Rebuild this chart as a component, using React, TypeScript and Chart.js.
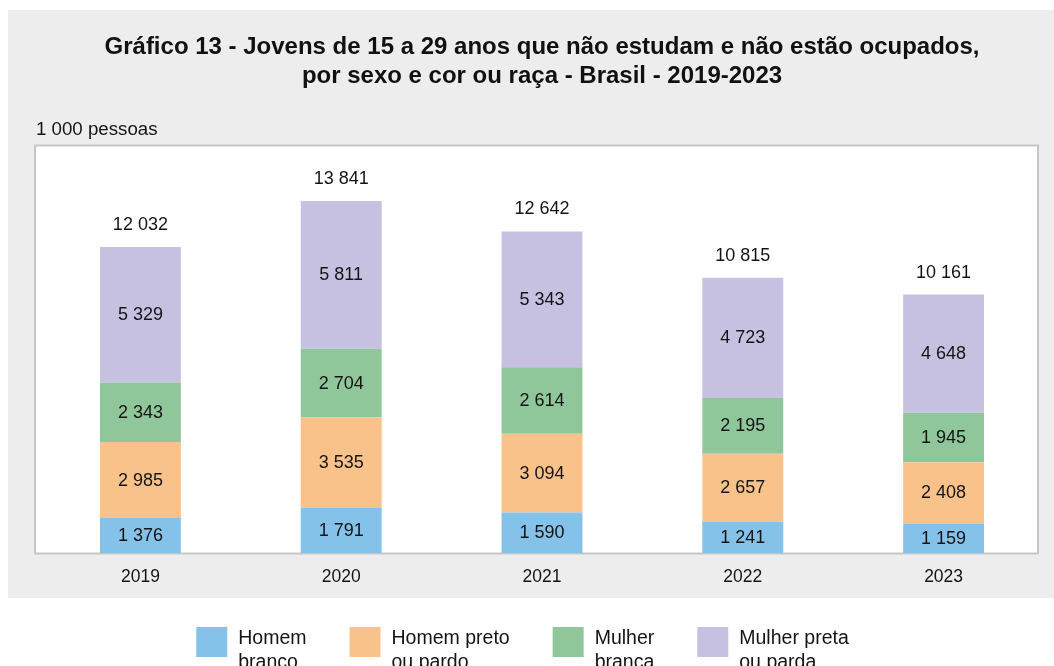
import React, { useEffect, useRef } from 'react';
import { Chart, registerables } from 'chart.js';

Chart.register(...registerables);

const years = ['2019', '2020', '2021', '2022', '2023'];
const homemBranco = [1376, 1791, 1590, 1241, 1159];
const homemPretoPardo = [2985, 3535, 3094, 2657, 2408];
const mulherBranca = [2343, 2704, 2614, 2195, 1945];
const mulherPretaParda = [5329, 5811, 5343, 4723, 4648];
const totals = [12032, 13841, 12642, 10815, 10161];
const seriesLabels = [
  ['Homem', 'branco'],
  ['Homem preto', 'ou pardo'],
  ['Mulher', 'branca'],
  ['Mulher preta', 'ou parda'],
];
const seriesColors = ['#85c2ea', '#f9c28b', '#90c79a', '#c6c1e1'];
const titleLines = [
  'Gráfico 13 - Jovens de 15 a 29 anos que não estudam e não estão ocupados,',
  'por sexo e cor ou raça - Brasil - 2019-2023',
];
const unitLabel = '1 000 pessoas';
const yMax = 16000;

const FONT = '"Liberation Sans", Arial, Helvetica, sans-serif';
const TEXT = '#141414';

const fmt = (v: number) => String(v).replace(/\B(?=(\d{3})+(?!\d))/g, ' ');

const decor = {
  id: 'decor',
  beforeDraw(chart: any) {
    const { ctx, chartArea: a, width, height } = chart;
    ctx.save();
    ctx.fillStyle = '#ffffff';
    ctx.fillRect(0, 0, width, height);
    ctx.fillStyle = '#ededed';
    ctx.fillRect(8, 10, width - 8, 588);
    const bx = a.left - 5;
    const by = a.top - 0.5;
    const br = a.right - 6;
    const bb = a.bottom + 0.5;
    ctx.fillStyle = '#ffffff';
    ctx.fillRect(bx, by, br - bx, bb - by);
    ctx.strokeStyle = '#c6c6c6';
    ctx.lineWidth = 2;
    ctx.strokeRect(bx, by, br - bx, bb - by);
    ctx.fillStyle = TEXT;
    ctx.font = `18.7px ${FONT}`;
    ctx.textAlign = 'left';
    ctx.textBaseline = 'alphabetic';
    ctx.fillText(unitLabel, 36, 135);
    ctx.restore();
  },
  afterDatasetsDraw(chart: any) {
    const { ctx } = chart;
    ctx.save();
    ctx.fillStyle = TEXT;
    ctx.font = `18px ${FONT}`;
    ctx.textAlign = 'center';
    ctx.textBaseline = 'middle';
    chart.data.datasets.forEach((ds: any, i: number) => {
      const meta = chart.getDatasetMeta(i);
      meta.data.forEach((bar: any, j: number) => {
        const { x, y, base } = bar.getProps(['x', 'y', 'base'], true);
        ctx.fillText(fmt(ds.data[j]), x, (y + base) / 2 + 0.5);
      });
    });
    const last = chart.getDatasetMeta(chart.data.datasets.length - 1);
    last.data.forEach((bar: any, j: number) => {
      const { x, y } = bar.getProps(['x', 'y'], true);
      ctx.fillText(fmt(totals[j]), x, y - 22);
    });
    ctx.restore();
  },
  afterDraw(chart: any) {
    const { ctx } = chart;
    ctx.save();
    ctx.font = `19.5px ${FONT}`;
    ctx.textAlign = 'left';
    ctx.textBaseline = 'alphabetic';
    const boxW = 31;
    const boxH = 30;
    const textGap = 11;
    const itemGap = 43;
    const widths = seriesLabels.map((l) => Math.max(...l.map((s) => ctx.measureText(s).width)));
    const total =
      widths.reduce((s, w) => s + boxW + textGap + w, 0) + itemGap * (widths.length - 1);
    let x = 522.5 - total / 2;
    seriesLabels.forEach((lines, i) => {
      ctx.fillStyle = seriesColors[i];
      ctx.fillRect(x, 627, boxW, boxH);
      ctx.fillStyle = TEXT;
      lines.forEach((s, k) => ctx.fillText(s, x + boxW + textGap, 644 + k * 24));
      x += boxW + textGap + widths[i] + itemGap;
    });
    ctx.restore();
  },
};

export default function App() {
  const ref = useRef<HTMLCanvasElement | null>(null);
  useEffect(() => {
    if (!ref.current) return;
    Chart.defaults.font.family = FONT;
    const series = [homemBranco, homemPretoPardo, mulherBranca, mulherPretaParda];
    const chart = new Chart(ref.current, {
      type: 'bar',
      data: {
        labels: years,
        datasets: series.map((d, i) => ({
          label: seriesLabels[i].join(' '),
          data: d,
          backgroundColor: seriesColors[i],
          borderWidth: 0,
          barPercentage: 0.403,
          categoryPercentage: 1,
        })),
      },
      options: {
        responsive: false,
        animation: false,
        devicePixelRatio: 1,
        layout: { padding: { top: 0, left: 40, right: 10, bottom: 78 } },
        plugins: {
          legend: { display: false },
          tooltip: { enabled: false },
          title: {
            display: true,
            text: titleLines,
            color: '#111111',
            font: { size: 24, weight: 'bold', family: FONT, lineHeight: 29 / 24 },
            padding: { top: 32.5, bottom: 55.5 },
          },
        },
        scales: {
          x: {
            stacked: true,
            grid: { display: false, drawTicks: false },
            border: { display: false },
            ticks: { color: TEXT, font: { size: 17.5, family: FONT }, padding: 14 },
            afterFit(s: any) {
              s.height = 35;
            },
          },
          y: { stacked: true, display: false, min: 0, max: yMax },
        },
      },
      plugins: [decor],
    } as any);
    return () => chart.destroy();
  }, []);
  return (
    <div style={{ position: 'fixed', left: 0, top: 0, width: 1054, height: 666 }}>
      <canvas ref={ref} width={1054} height={666} style={{ display: 'block' }} />
    </div>
  );
}
